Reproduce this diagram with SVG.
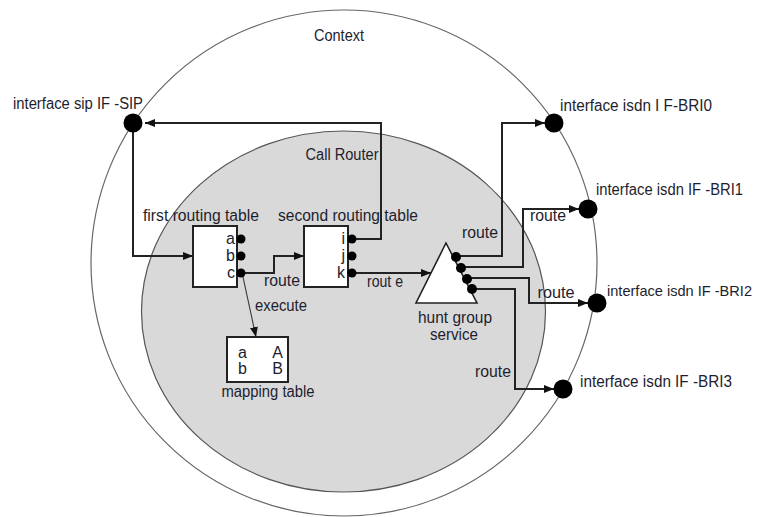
<svg xmlns="http://www.w3.org/2000/svg" width="760" height="517" viewBox="0 0 760 517">
<defs>
<style>
text{font-family:"Liberation Sans",Arial,sans-serif;font-size:16px;fill:#1e1e2e}
.c{text-anchor:middle}
.e{text-anchor:end}
.ring{fill:none;stroke:#666;stroke-width:1.2}
.cr{fill:#d9d9d9;stroke:#555;stroke-width:1.2}
.box{fill:#fff;stroke:#222;stroke-width:2}
.dot{fill:#000}
.ln{fill:none;stroke:#222;stroke-width:2}
.thin{fill:none;stroke:#333;stroke-width:1.1}
</style>
<marker id="ah" viewBox="0 0 10 8" refX="10" refY="4" markerWidth="10" markerHeight="8" markerUnits="userSpaceOnUse" orient="auto">
<path d="M0,0 L10,4 L0,8 z" fill="#111"/>
</marker>
</defs>
<rect width="760" height="517" fill="#fff"/>
<g id="context">
<circle class="ring" cx="344" cy="263" r="253"/>
<text x="339" y="41" class="c" textLength="50" lengthAdjust="spacingAndGlyphs">Context</text>
</g>
<g id="call-router">
<ellipse class="cr" cx="343.5" cy="311.5" rx="202" ry="180.5"/>
<text x="342" y="160" class="c" textLength="73" lengthAdjust="spacingAndGlyphs">Call Router</text>
</g>
<g id="connectors">
<path class="ln" d="M133,123 V256 H193" marker-end="url(#ah)"/>
<path class="ln" d="M352,239 H381 V123 H145" marker-end="url(#ah)"/>
<path class="ln" d="M241,273 H274 V256 H304" marker-end="url(#ah)"/>
<path class="thin" d="M243,277 L256,337" marker-end="url(#ah)"/>
<path class="ln" d="M352,273 H431" marker-end="url(#ah)"/>
<path class="ln" d="M456,256 H502 V123 H545" marker-end="url(#ah)"/>
<path class="ln" d="M461,267 H523 V209 H579" marker-end="url(#ah)"/>
<path class="ln" d="M467,278 H529 V303 H588" marker-end="url(#ah)"/>
<path class="ln" d="M472,289 H515 V389 H554" marker-end="url(#ah)"/>
<text x="282" y="286" class="c" textLength="36" lengthAdjust="spacingAndGlyphs">route</text>
<text x="385" y="287" class="c" textLength="36" lengthAdjust="spacingAndGlyphs">rout e</text>
<text x="281" y="311" class="c" textLength="52" lengthAdjust="spacingAndGlyphs">execute</text>
<text x="480" y="238" class="c" textLength="36" lengthAdjust="spacingAndGlyphs">route</text>
<text x="548" y="221" class="c" textLength="36" lengthAdjust="spacingAndGlyphs">route</text>
<text x="556" y="298" class="c" textLength="37" lengthAdjust="spacingAndGlyphs">route</text>
<text x="493" y="377" class="c" textLength="36" lengthAdjust="spacingAndGlyphs">route</text>
</g>
<g id="if-sip">
<circle class="dot" cx="133" cy="123" r="9.5"/>
<text x="13" y="109" textLength="130" lengthAdjust="spacingAndGlyphs">interface sip IF -SIP</text>
</g>
<g id="if-bri0">
<circle class="dot" cx="554" cy="123" r="9.5"/>
<text x="560" y="111" textLength="152" lengthAdjust="spacingAndGlyphs">interface isdn I F-BRI0</text>
</g>
<g id="if-bri1">
<circle class="dot" cx="588" cy="209" r="9.5"/>
<text x="596" y="195" textLength="147" lengthAdjust="spacingAndGlyphs">interface isdn IF -BRI1</text>
</g>
<g id="if-bri2">
<circle class="dot" cx="597" cy="303" r="9.5"/>
<text x="607" y="296" style="font-size:14.5px" textLength="145" lengthAdjust="spacingAndGlyphs">interface isdn IF -BRI2</text>
</g>
<g id="if-bri3">
<circle class="dot" cx="563" cy="389" r="9.5"/>
<text x="580" y="387" textLength="152" lengthAdjust="spacingAndGlyphs">interface isdn IF -BRI3</text>
</g>
<g id="first-routing-table">
<rect class="box" x="193" y="226" width="44" height="61"/>
<circle class="dot" cx="241" cy="239" r="4.5"/>
<circle class="dot" cx="241" cy="256" r="4.5"/>
<circle class="dot" cx="241" cy="273" r="4.5"/>
<text x="235" y="244" class="e">a</text>
<text x="235" y="261" class="e">b</text>
<text x="235" y="278" class="e">c</text>
<text x="201" y="221" class="c" textLength="116" lengthAdjust="spacingAndGlyphs">first routing table</text>
</g>
<g id="second-routing-table">
<rect class="box" x="304" y="226" width="44" height="61"/>
<circle class="dot" cx="352" cy="239" r="4.5"/>
<circle class="dot" cx="352" cy="256" r="4.5"/>
<circle class="dot" cx="352" cy="273" r="4.5"/>
<text x="345" y="244" class="e">i</text>
<text x="345" y="261" class="e">j</text>
<text x="345" y="278" class="e">k</text>
<text x="348" y="221" class="c" textLength="140" lengthAdjust="spacingAndGlyphs">second routing table</text>
</g>
<g id="mapping-table">
<rect class="box" x="227" y="337" width="61" height="45"/>
<text x="238" y="358">a</text>
<text x="238" y="374">b</text>
<text x="283" y="358" class="e">A</text>
<text x="283" y="374" class="e">B</text>
<text x="268" y="397" class="c" textLength="93" lengthAdjust="spacingAndGlyphs">mapping table</text>
</g>
<g id="hunt-group-service">
<path d="M446,243 L477,303 L416,303 Z" fill="#fff" stroke="#222" stroke-width="1.6"/>
<circle class="dot" cx="456" cy="257" r="5"/>
<circle class="dot" cx="461" cy="268" r="5"/>
<circle class="dot" cx="467" cy="279" r="5"/>
<circle class="dot" cx="472" cy="289" r="5"/>
<text x="455" y="323" class="c" textLength="74" lengthAdjust="spacingAndGlyphs">hunt group</text>
<text x="454" y="340" class="c" textLength="48" lengthAdjust="spacingAndGlyphs">service</text>
</g>
</svg>
